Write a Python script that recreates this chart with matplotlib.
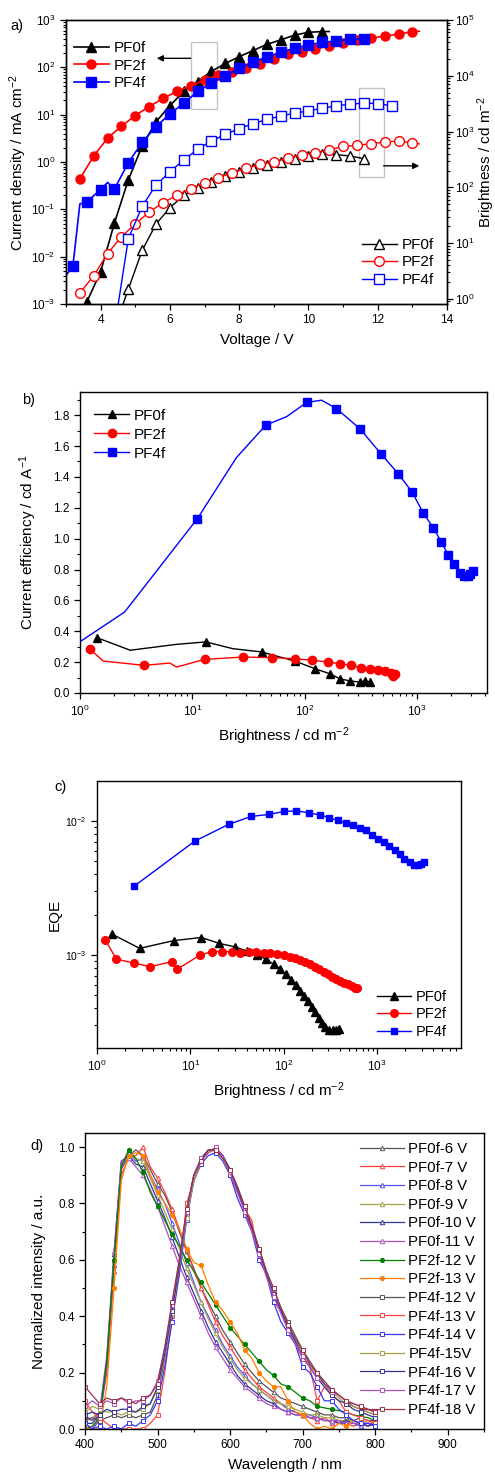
import numpy as np
import matplotlib
matplotlib.use("Agg")
import matplotlib.pyplot as plt
from matplotlib.patches import Rectangle
from matplotlib.ticker import LogLocator, MultipleLocator, NullFormatter, FormatStrFormatter

plt.rcParams['font.family'] = ['Liberation Sans', 'DejaVu Sans']
plt.rcParams['mathtext.fontset'] = 'custom'
plt.rcParams['mathtext.rm'] = 'Liberation Sans'
plt.rcParams['mathtext.it'] = 'Liberation Sans:italic'
plt.rcParams['axes.linewidth'] = 1.0

# ---------------- (a) J-V-L ----------------
v_pf0f = [3.2, 3.6, 4.0, 4.4, 4.8, 5.2, 5.6, 6.0, 6.4, 6.8, 7.2, 7.6, 8.0, 8.4, 8.8, 9.2, 9.6, 10.0, 10.4, 10.6]
j_pf0f = [2e-4, 1.1e-3, 4.8e-3, 0.052, 0.42, 2.2, 7.1, 15.5, 31, 50, 82, 121, 168, 226, 306, 380, 480, 550, 570, 570]
v_pf2f = [3.4, 3.8, 4.2, 4.6, 5.0, 5.4, 5.8, 6.2, 6.6, 7.0, 7.4, 7.8, 8.2, 8.6, 9.0, 9.4, 9.8, 10.2, 10.6, 11.0,
          11.4, 11.8, 12.2, 12.6, 13.0, 13.2]
j_pf2f = [0.44, 1.34, 3.2, 5.7, 9.6, 14.8, 22, 31, 41, 54, 69, 81, 98, 120, 150, 188, 213, 245, 283, 330,
          380, 410, 460, 500, 570, 580]
v_pf4f = [3.0, 3.2, 3.4, 3.6, 4.0, 4.2, 4.4, 4.8, 5.2, 5.6, 6.0, 6.4, 6.8, 7.2, 7.6, 8.0, 8.4, 8.8, 9.2, 9.6,
          10.0, 10.4, 10.8, 11.2, 11.6]
j_pf4f = [4.0e-3, 6.4e-3, 0.13, 0.145, 0.26, 0.37, 0.27, 0.97, 2.6, 5.6, 10.4, 17.4, 31, 46, 67, 95, 128, 168, 207, 252,
          296, 337, 360, 390, 397]

vl_pf0f = [4.4, 4.8, 5.2, 5.6, 6.0, 6.4, 6.8, 7.2, 7.6, 8.0, 8.4, 8.8, 9.2, 9.6, 10.0, 10.4, 10.8, 11.2, 11.6]
l_pf0f = [0.3, 1.5, 7.4, 22, 43, 72, 98, 126, 159, 189, 223, 250, 288, 327, 365, 398, 387, 365, 327]
vl_pf2f = [3.4, 3.8, 4.2, 4.6, 5.0, 5.4, 5.8, 6.2, 6.6, 7.0, 7.4, 7.8, 8.2, 8.6, 9.0, 9.4, 9.8, 10.2, 10.6, 11.0,
           11.4, 11.8, 12.2, 12.6, 13.0, 13.2]
l_pf2f = [1.28, 2.6, 6.5, 13, 22, 36, 53, 72, 95, 121, 149, 183, 218, 258, 288, 333, 382, 418, 466, 540,
          565, 605, 650, 675, 630, 600]
vl_pf4f = [4.4, 4.8, 5.2, 5.6, 6.0, 6.4, 6.8, 7.2, 7.6, 8.0, 8.4, 8.8, 9.2, 9.6, 10.0, 10.4, 10.8, 11.2, 11.6, 12.0, 12.4]
l_pf4f = [0.3, 12, 46, 110, 190, 310, 480, 680, 890, 1130, 1380, 1650, 1900, 2130, 2350, 2620, 2900, 3090, 3240, 3180, 2900]

# ---------------- (b) current efficiency ----------------
bb_pf0f = [1.43, 2.8, 7.2, 13.2, 23, 41.3, 81.7, 123, 167, 205, 252, 309, 343, 380]
ce_pf0f = [0.357, 0.277, 0.315, 0.331, 0.287, 0.266, 0.207, 0.158, 0.125, 0.093, 0.078, 0.071, 0.078, 0.071]
bb_pf2f = [1.23, 1.61, 3.73, 6.3, 7.25, 12.9, 28.4, 51.4, 81.7, 117, 160, 205, 257, 316, 380, 450, 523, 592, 642, 612]
ce_pf2f = [0.283, 0.207, 0.179, 0.194, 0.168, 0.218, 0.233, 0.229, 0.222, 0.212, 0.201, 0.19, 0.179, 0.164, 0.153,
           0.147, 0.143, 0.132, 0.125, 0.108]
bb_pf4f = [0.9, 2.5, 11.1, 24.7, 45, 69, 104, 141, 192, 313, 476, 678, 903, 1133, 1390, 1648, 1888, 2119, 2400,
           2620, 2843, 2985, 3150]
ce_pf4f = [0.31, 0.525, 1.13, 1.525, 1.735, 1.79, 1.882, 1.897, 1.843, 1.709, 1.551, 1.422, 1.303, 1.169, 1.072,
           0.979, 0.897, 0.834, 0.780, 0.756, 0.756, 0.774, 0.791]

# ---------------- (c) EQE ----------------
bc_pf0f = [1.45, 2.87, 6.63, 13.1, 20.5, 29.9, 40.5, 51.8, 64.7, 78.2, 92, 107, 121, 136, 151, 166, 182, 201, 218,
           237, 258, 279, 303, 335, 366, 388]
eqe_pf0f = [1.43e-3, 1.12e-3, 1.28e-3, 1.35e-3, 1.22e-3, 1.15e-3, 1.07e-3, 1.0e-3, 9.29e-4, 8.53e-4, 7.82e-4,
            7.17e-4, 6.51e-4, 5.98e-4, 5.42e-4, 4.95e-4, 4.5e-4, 4.08e-4, 3.72e-4, 3.38e-4, 3.1e-4, 2.88e-4,
            2.77e-4, 2.74e-4, 2.74e-4, 2.8e-4]
bc_pf2f = [1.23, 1.61, 2.51, 3.73, 6.36, 7.2, 12.8, 17.1, 21.8, 27.9, 34.3, 42.4, 51, 61, 72.1, 85.5, 101, 116,
           133, 151, 170, 193, 218, 242, 268, 296, 329, 366, 403, 447, 493, 543, 580, 612]
eqe_pf2f = [1.29e-3, 9.33e-4, 8.67e-4, 8.19e-4, 8.91e-4, 7.82e-4, 1.0e-3, 1.06e-3, 1.06e-3, 1.06e-3, 1.04e-3,
            1.06e-3, 1.05e-3, 1.04e-3, 1.03e-3, 1.01e-3, 9.95e-4, 9.72e-4, 9.44e-4, 9.18e-4, 8.91e-4, 8.57e-4,
            8.19e-4, 7.82e-4, 7.51e-4, 7.22e-4, 6.9e-4, 6.63e-4, 6.4e-4, 6.22e-4, 6.08e-4, 5.87e-4, 5.65e-4, 5.65e-4]
bc_pf4f = [2.51, 11.1, 25.8, 45, 69.6, 101, 137, 185, 243, 309, 379, 466, 553, 652, 769, 884, 1025, 1178, 1355,
           1545, 1750, 1963, 2240, 2470, 2730, 2960, 3160]
eqe_pf4f = [3.27e-3, 7.06e-3, 9.45e-3, 1.083e-2, 1.12e-2, 1.18e-2, 1.19e-2, 1.153e-2, 1.11e-2, 1.06e-2, 1.01e-2,
            9.67e-3, 9.3e-3, 8.87e-3, 8.53e-3, 7.9e-3, 7.38e-3, 6.98e-3, 6.47e-3, 6.05e-3, 5.65e-3, 5.25e-3,
            4.96e-3, 4.73e-3, 4.7e-3, 4.81e-3, 4.96e-3]

# ---------------- (d) EL spectra ----------------
wavelength = list(range(400, 801, 10))
spec_labels = ['PF0f-6 V', 'PF0f-7 V', 'PF0f-8 V', 'PF0f-9 V', 'PF0f-10 V', 'PF0f-11 V', 'PF2f-12 V', 'PF2f-13 V',
               'PF4f-12 V', 'PF4f-13 V', 'PF4f-14 V', 'PF4f-15V', 'PF4f-16 V', 'PF4f-17 V', 'PF4f-18 V']
spec_pf0f_6 = [0.04, 0.03, 0.05, 0.22, 0.58, 0.92, 0.97, 0.99, 0.97, 0.92, 0.87, 0.83, 0.77, 0.70, 0.63, 0.57, 0.50,
               0.45, 0.40, 0.35, 0.31, 0.27, 0.23, 0.20, 0.17, 0.15, 0.13, 0.11, 0.10, 0.09, 0.08, 0.07, 0.06, 0.05,
               0.05, 0.04, 0.04, 0.03, 0.04, 0.03, 0.03]
spec_pf0f_7 = [0.02, 0.00, 0.04, 0.20, 0.56, 0.90, 0.96, 0.97, 1.00, 0.93, 0.89, 0.84, 0.78, 0.71, 0.64, 0.56, 0.50,
               0.44, 0.38, 0.33, 0.29, 0.25, 0.21, 0.18, 0.15, 0.13, 0.11, 0.09, 0.07, 0.06, 0.05, 0.04, 0.03, 0.04,
               0.02, 0.03, 0.02, 0.01, 0.02, 0.01, 0.02]
spec_pf0f_8 = [0.00, 0.00, 0.03, 0.22, 0.60, 0.93, 0.98, 0.95, 0.96, 0.90, 0.85, 0.80, 0.73, 0.66, 0.59, 0.52, 0.45,
               0.40, 0.35, 0.30, 0.26, 0.22, 0.19, 0.16, 0.14, 0.12, 0.10, 0.09, 0.07, 0.06, 0.05, 0.05, 0.04, 0.03,
               0.03, 0.02, 0.02, 0.02, 0.01, 0.02, 0.01]
spec_pf0f_9 = [0.03, 0.04, 0.06, 0.23, 0.60, 0.94, 0.97, 0.96, 0.95, 0.89, 0.83, 0.77, 0.71, 0.64, 0.57, 0.51, 0.45,
               0.39, 0.34, 0.29, 0.25, 0.21, 0.18, 0.16, 0.14, 0.12, 0.10, 0.09, 0.08, 0.07, 0.06, 0.05, 0.05, 0.04,
               0.04, 0.03, 0.03, 0.03, 0.02, 0.02, 0.02]
spec_pf0f_10 = [0.02, 0.02, 0.05, 0.24, 0.62, 0.95, 0.97, 0.94, 0.93, 0.87, 0.81, 0.75, 0.68, 0.61, 0.54, 0.48, 0.42,
                0.36, 0.31, 0.27, 0.23, 0.19, 0.16, 0.14, 0.12, 0.10, 0.09, 0.07, 0.06, 0.05, 0.05, 0.04, 0.04, 0.03,
                0.03, 0.02, 0.03, 0.02, 0.02, 0.01, 0.02]
spec_pf0f_11 = [0.05, 0.03, 0.06, 0.26, 0.63, 0.95, 0.96, 0.93, 0.90, 0.85, 0.79, 0.72, 0.65, 0.58, 0.52, 0.46, 0.40,
                0.34, 0.29, 0.25, 0.21, 0.18, 0.15, 0.13, 0.11, 0.09, 0.08, 0.07, 0.06, 0.05, 0.05, 0.04, 0.04, 0.03,
                0.03, 0.03, 0.02, 0.02, 0.02, 0.02, 0.02]
spec_pf2f_12 = [0.00, 0.01, 0.04, 0.24, 0.60, 0.93, 0.99, 0.96, 0.91, 0.84, 0.79, 0.74, 0.69, 0.65, 0.60, 0.56, 0.52,
                0.48, 0.44, 0.40, 0.36, 0.33, 0.30, 0.27, 0.24, 0.21, 0.19, 0.16, 0.15, 0.13, 0.11, 0.10, 0.08, 0.075,
                0.07, 0.065, 0.06, 0.05, 0.045, 0.04, 0.03]
spec_pf2f_13 = [0.00, 0.00, 0.00, 0.15, 0.50, 0.88, 0.97, 0.98, 0.97, 0.90, 0.84, 0.80, 0.76, 0.71, 0.64, 0.59, 0.58,
                0.51, 0.45, 0.42, 0.38, 0.34, 0.28, 0.25, 0.20, 0.17, 0.15, 0.15, 0.10, 0.06, 0.05, 0.02, 0.00, 0.01,
                0.00, 0.02, 0.01, 0.03, 0.02, 0.03, 0.02]
spec_pf4f_12 = [0.03, 0.04, 0.03, 0.04, 0.05, 0.04, 0.05, 0.04, 0.05, 0.06, 0.12, 0.25, 0.42, 0.58, 0.76, 0.90, 0.96,
                0.99, 0.99, 0.97, 0.92, 0.86, 0.79, 0.72, 0.64, 0.56, 0.49, 0.43, 0.38, 0.33, 0.28, 0.24, 0.20, 0.17,
                0.14, 0.12, 0.10, 0.08, 0.07, 0.06, 0.05]
spec_pf4f_13 = [0.10, 0.06, 0.04, 0.02, 0.00, 0.00, 0.00, 0.00, 0.00, 0.02, 0.05, 0.20, 0.40, 0.55, 0.80, 0.88, 0.95,
                0.98, 1.00, 0.97, 0.90, 0.84, 0.78, 0.74, 0.60, 0.55, 0.45, 0.42, 0.35, 0.30, 0.25, 0.22, 0.10, 0.15,
                0.12, 0.10, 0.06, 0.05, 0.04, 0.03, 0.02]
spec_pf4f_14 = [0.02, 0.00, 0.01, 0.00, 0.01, 0.00, 0.02, 0.01, 0.03, 0.05, 0.10, 0.22, 0.38, 0.55, 0.74, 0.88, 0.94,
                0.97, 0.98, 0.95, 0.90, 0.82, 0.76, 0.70, 0.60, 0.55, 0.45, 0.38, 0.34, 0.30, 0.22, 0.20, 0.15, 0.10,
                0.10, 0.07, 0.05, 0.03, 0.02, 0.02, 0.01]
spec_pf4f_15 = [0.06, 0.08, 0.07, 0.06, 0.06, 0.05, 0.06, 0.06, 0.07, 0.09, 0.14, 0.26, 0.41, 0.57, 0.75, 0.88, 0.95,
                0.98, 0.99, 0.96, 0.91, 0.85, 0.78, 0.71, 0.64, 0.56, 0.49, 0.43, 0.37, 0.32, 0.27, 0.23, 0.19, 0.16,
                0.13, 0.11, 0.09, 0.08, 0.07, 0.06, 0.05]
spec_pf4f_16 = [0.05, 0.06, 0.05, 0.07, 0.06, 0.07, 0.07, 0.06, 0.08, 0.09, 0.15, 0.27, 0.42, 0.58, 0.77, 0.90, 0.96,
                0.99, 0.99, 0.97, 0.92, 0.85, 0.78, 0.71, 0.63, 0.55, 0.48, 0.42, 0.36, 0.31, 0.26, 0.22, 0.18, 0.15,
                0.12, 0.10, 0.09, 0.07, 0.06, 0.05, 0.04]
spec_pf4f_17 = [0.08, 0.10, 0.08, 0.10, 0.09, 0.11, 0.09, 0.10, 0.10, 0.12, 0.17, 0.29, 0.44, 0.60, 0.77, 0.90, 0.96,
                0.98, 1.00, 0.97, 0.91, 0.84, 0.77, 0.70, 0.62, 0.54, 0.47, 0.41, 0.35, 0.30, 0.26, 0.22, 0.18, 0.16,
                0.13, 0.12, 0.10, 0.09, 0.08, 0.07, 0.06]
spec_pf4f_18 = [0.15, 0.12, 0.09, 0.11, 0.10, 0.11, 0.10, 0.09, 0.11, 0.12, 0.16, 0.29, 0.45, 0.60, 0.78, 0.90, 0.95,
                0.99, 0.99, 0.96, 0.92, 0.86, 0.79, 0.72, 0.64, 0.56, 0.50, 0.43, 0.37, 0.32, 0.28, 0.23, 0.20, 0.16,
                0.14, 0.12, 0.10, 0.09, 0.08, 0.07, 0.06]
spectra = [spec_pf0f_6, spec_pf0f_7, spec_pf0f_8, spec_pf0f_9, spec_pf0f_10, spec_pf0f_11, spec_pf2f_12,
           spec_pf2f_13, spec_pf4f_12, spec_pf4f_13, spec_pf4f_14, spec_pf4f_15, spec_pf4f_16, spec_pf4f_17,
           spec_pf4f_18]
spec_colors = ['#555555', '#ff3b3b', '#5050ff', '#a3a345', '#34349a', '#b052c2', '#008000', '#ff8000',
               '#555555', '#ff4545', '#3636ff', '#a3a345', '#34349a', '#b052c2', '#9c3047']
spec_markers = ['^'] * 6 + ['o', 'o'] + ['s'] * 7

# ------------------------------------------------------------
W, H = 495, 1475
fig = plt.figure(figsize=(W / 100, H / 100), dpi=100)
fig.patch.set_facecolor('white')

BLACK, RED, BLUE = '#000000', '#ff0000', '#0000ff'
TICK_FS = 8.5
LABEL_FS = 11


def px_axes(left, top, right, bottom):
    return fig.add_axes([left / W, 1 - bottom / H, (right - left) / W, (bottom - top) / H])


def style(ax, right=False):
    ax.tick_params(which='both', direction='out', top=False, right=right, labelsize=TICK_FS)
    ax.tick_params(which='major', length=4, width=0.9)
    ax.tick_params(which='minor', length=2.2, width=0.8)


def legend_kw(fs, spacing, hl=2.3):
    return dict(frameon=False, fontsize=fs, handlelength=hl, handletextpad=0.3, labelspacing=spacing,
                borderaxespad=0, borderpad=0)


# ---- panel a ----
axa = px_axes(66, 20, 447, 304)
axa.set_yscale('log')
axa.set_xlim(3, 14)
axa.set_ylim(1e-3, 1e3)
axa.xaxis.set_major_locator(MultipleLocator(2))
axa.xaxis.set_minor_locator(MultipleLocator(1))
axa.yaxis.set_major_locator(LogLocator(base=10, numticks=20))
axa.yaxis.set_minor_locator(LogLocator(base=10, subs=np.arange(2, 10), numticks=20))
axa.yaxis.set_minor_formatter(NullFormatter())
style(axa)
axa.tick_params(axis='y', right=False)

filled = [(v_pf0f, j_pf0f, BLACK, '^', list(range(1, 19)), 'PF0f'),
          (v_pf2f, j_pf2f, RED, 'o', list(range(0, 25)), 'PF2f'),
          (v_pf4f, j_pf4f, BLUE, 's', [1, 3, 4] + list(range(6, 25)), 'PF4f')]
for v, j, c, m, me, lab in filled:
    axa.plot(v, j, color=c, lw=1.2, marker=m, ms=6.5, markevery=me, label=lab)

axr = axa.twinx()
axr.set_yscale('log')
axr.set_ylim(0.81, 1e5)
axr.yaxis.set_major_locator(LogLocator(base=10, numticks=20))
axr.yaxis.set_minor_locator(LogLocator(base=10, subs=np.arange(2, 10), numticks=20))
axr.yaxis.set_minor_formatter(NullFormatter())
axr.tick_params(which='both', direction='out', labelsize=TICK_FS, pad=2)
axr.tick_params(which='major', length=4, width=0.9)
axr.tick_params(which='minor', length=2.2, width=0.8)

opened = [(vl_pf0f, l_pf0f, BLACK, '^', list(range(1, 19)), 'PF0f'),
          (vl_pf2f, l_pf2f, RED, 'o', list(range(0, 25)), 'PF2f'),
          (vl_pf4f, l_pf4f, BLUE, 's', list(range(1, 21)), 'PF4f')]
for v, l, c, m, me, lab in opened:
    axr.plot(v, l, color=c, lw=1.0, marker=m, ms=7, mfc='white', mec=c, mew=1.0, markevery=me, label=lab)

axa.set_xlabel('Voltage / V', fontsize=LABEL_FS, labelpad=5)
axa.set_ylabel('Current density / mA cm$^{-2}$', fontsize=LABEL_FS, labelpad=2)
axr.set_ylabel('Brightness / cd m$^{-2}$', fontsize=LABEL_FS, labelpad=0)

# guide boxes and arrows
axa.add_patch(Rectangle((6.6, 13), 0.75, 327, fill=False, ec='#c4c4c4', lw=1.0, zorder=1))
axa.add_patch(Rectangle((11.45, 0.48), 0.72, 36.5, fill=False, ec='#c4c4c4', lw=1.0, zorder=1))
axa.annotate('', xy=(5.62, 155), xytext=(6.6, 155),
             arrowprops=dict(arrowstyle='-|>', color='k', lw=1.0, mutation_scale=9, shrinkA=0, shrinkB=0))
axa.annotate('', xy=(13.2, 0.83), xytext=(12.17, 0.83),
             arrowprops=dict(arrowstyle='-|>', color='k', lw=1.0, mutation_scale=9, shrinkA=0, shrinkB=0))

axa.legend(loc='upper left', bbox_to_anchor=(0.02, 0.925), **legend_kw(11, 0.23))
axr.legend(loc='lower right', bbox_to_anchor=(0.965, 0.06), **legend_kw(11, 0.23))
fig.text(10 / W, 1 - 26 / H, 'a)', fontsize=10.5, va='center')

# ---- panel b ----
axb = px_axes(80, 392, 487, 693)
axb.set_xscale('log')
axb.set_xlim(1, 4200)
axb.set_ylim(0, 1.95)
axb.yaxis.set_major_locator(MultipleLocator(0.2))
axb.yaxis.set_minor_locator(MultipleLocator(0.1))
axb.yaxis.set_major_formatter(FormatStrFormatter('%.1f'))
axb.xaxis.set_minor_locator(LogLocator(base=10, subs=np.arange(2, 10), numticks=20))
axb.xaxis.set_minor_formatter(NullFormatter())
style(axb)
axb.plot(bb_pf0f, ce_pf0f, color=BLACK, lw=1.0, marker='^', ms=6, markevery=[0, 3, 5, 6, 7, 8, 9, 10, 11, 12, 13],
         label='PF0f')
axb.plot(bb_pf2f, ce_pf2f, color=RED, lw=1.0, marker='o', ms=6, markevery=[0, 2, 5] + list(range(6, 20)),
         label='PF2f')
axb.plot(bb_pf4f, ce_pf4f, color=BLUE, lw=1.0, marker='s', ms=5.5, markevery=[2, 4, 6] + list(range(8, 23)),
         label='PF4f')
axb.set_xlabel('Brightness / cd m$^{-2}$', fontsize=LABEL_FS, labelpad=5)
axb.set_ylabel('Current efficiency / cd A$^{-1}$', fontsize=LABEL_FS, labelpad=10)
axb.legend(loc='upper left', bbox_to_anchor=(0.035, 0.945), **legend_kw(11, 0.33))
fig.text(22 / W, 1 - 400 / H, 'b)', fontsize=10.5, va='center')

# ---- panel c ----
axc = px_axes(97, 781, 461, 1048)
axc.set_xscale('log')
axc.set_yscale('log')
axc.set_xlim(1, 7950)
axc.set_ylim(2.02e-4, 1.99e-2)
for axis in (axc.xaxis, axc.yaxis):
    axis.set_major_locator(LogLocator(base=10, numticks=20))
    axis.set_minor_locator(LogLocator(base=10, subs=np.arange(2, 10), numticks=20))
    axis.set_minor_formatter(NullFormatter())
style(axc)
axc.tick_params(axis='y', which='major', labelsize=7.5)
axc.plot(bc_pf0f, eqe_pf0f, color=BLACK, lw=1.0, marker='^', ms=5.5, label='PF0f')
axc.plot(bc_pf2f, eqe_pf2f, color=RED, lw=1.0, marker='o', ms=5.5, label='PF2f')
axc.plot(bc_pf4f, eqe_pf4f, color=BLUE, lw=1.0, marker='s', ms=5.0, label='PF4f')
axc.set_xlabel('Brightness / cd m$^{-2}$', fontsize=LABEL_FS, labelpad=5)
axc.set_ylabel('EQE', fontsize=LABEL_FS, labelpad=2)
axc.legend(loc='lower right', bbox_to_anchor=(0.96, 0.035), **legend_kw(10.5, 0.23))
fig.text(54 / W, 1 - 787 / H, 'c)', fontsize=10.5, va='center')

# ---- panel d ----
axd = px_axes(85, 1133, 484, 1429)
axd.set_xlim(400, 950)
axd.set_ylim(0, 1.05)
axd.xaxis.set_major_locator(MultipleLocator(100))
axd.xaxis.set_minor_locator(MultipleLocator(50))
axd.yaxis.set_major_locator(MultipleLocator(0.2))
axd.yaxis.set_minor_locator(MultipleLocator(0.1))
axd.yaxis.set_major_formatter(FormatStrFormatter('%.1f'))
style(axd)
for y, c, m, lab in zip(spectra, spec_colors, spec_markers, spec_labels):
    filled_marker = (m == 'o')
    axd.plot(wavelength, y, color=c, lw=0.9, marker=m, ms=3.0 if filled_marker else 3.2,
             mfc=c if filled_marker else 'white', mec=c, mew=0.7, markevery=2, label=lab)
axd.set_xlabel('Wavelength / nm', fontsize=LABEL_FS, labelpad=5)
axd.set_ylabel('Normalized intensity / a.u.', fontsize=LABEL_FS, labelpad=9)
axd.legend(loc='upper right', bbox_to_anchor=(0.98, 0.97), **legend_kw(10.8, 0.31, hl=2.9))
fig.text(30 / W, 1 - 1146 / H, 'd)', fontsize=10.5, va='center')

fig.savefig('out.png', dpi=100, facecolor='white')
